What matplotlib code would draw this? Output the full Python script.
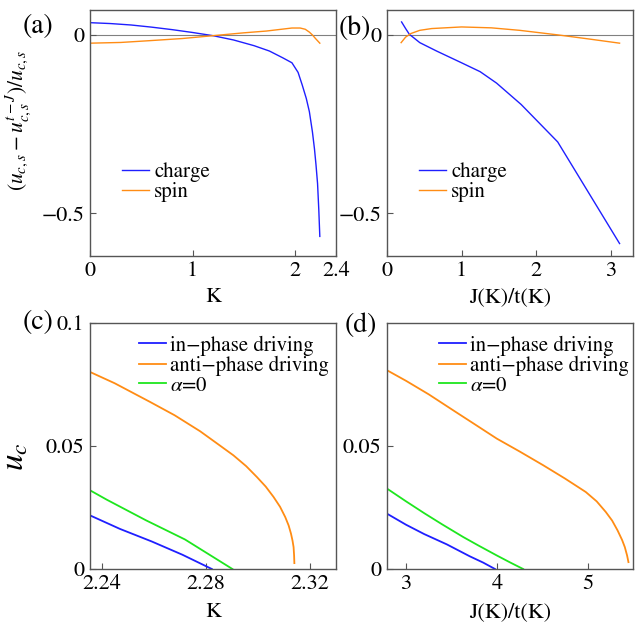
import matplotlib
matplotlib.use("Agg")
import matplotlib.pyplot as plt

plt.rcParams["font.family"] = "STIXGeneral"
plt.rcParams["mathtext.fontset"] = "stix"

BLUE = "#1f1fff"
ORANGE = "#ff8c14"
GREEN = "#1ee61e"
FRAME = "#555555"

# (a) relative deviation vs K
a_charge_k = [0, 0.2, 0.4, 0.6, 0.8, 1.0, 1.2, 1.4, 1.6, 1.75, 1.88, 1.97, 2.03, 2.07, 2.11, 2.14, 2.17, 2.19, 2.205, 2.22, 2.232, 2.242]
a_charge_v = [0.0345, 0.032, 0.028, 0.022, 0.015, 0.007, -0.002, -0.014, -0.030, -0.045, -0.064, -0.078, -0.105, -0.140, -0.178, -0.215, -0.272, -0.320, -0.365, -0.417, -0.49, -0.565]
a_spin_k = [0, 0.3, 0.58, 0.9, 1.2, 1.5, 1.72, 1.97, 2.05, 2.10, 2.14, 2.17, 2.20, 2.242]
a_spin_v = [-0.023, -0.021, -0.016, -0.010, -0.002, 0.006, 0.011, 0.0195, 0.0195, 0.016, 0.008, 0.0, -0.010, -0.023]

# (b) relative deviation vs J(K)/t(K)
b_charge_j = [0.196, 0.25, 0.30, 0.44, 0.665, 1.0, 1.25, 1.47, 1.80, 2.29, 3.12]
b_charge_v = [0.0365, 0.018, 0.002, -0.0215, -0.045, -0.078, -0.103, -0.135, -0.195, -0.30, -0.585]
b_spin_j = [0.19, 0.25, 0.32, 0.44, 0.6, 1.0, 1.4, 1.78, 2.3, 2.7, 3.12]
b_spin_v = [-0.0215, -0.006, 0.004, 0.013, 0.018, 0.0225, 0.020, 0.013, 0.0, -0.011, -0.023]

# (c) critical u vs K
c_in_k = [2.2355, 2.247, 2.2592, 2.271, 2.2823]
c_in_u = [0.0218, 0.0163, 0.0112, 0.0058, 0.0]
c_anti_k = [2.2355, 2.245, 2.2586, 2.268, 2.2778, 2.285, 2.2906, 2.2955, 2.2996, 2.303,
            2.3060, 2.3085, 2.3105, 2.3118, 2.3127, 2.3133, 2.3137, 2.3139, 2.314]
c_anti_u = [0.0801, 0.0755, 0.0679, 0.0625, 0.0560, 0.0505, 0.0462, 0.0418, 0.0374, 0.0335,
            0.0293, 0.0253, 0.0211, 0.0177, 0.0144, 0.0115, 0.0089, 0.0055, 0.0024]
c_zero_k = [2.2355, 2.2419, 2.257, 2.272, 2.2902]
c_zero_u = [0.032, 0.0282, 0.0198, 0.0120, 0.0]

# (d) critical u vs J(K)/t(K)
d_in_j = [2.79, 3.0, 3.2, 3.45, 3.7, 3.85, 3.98]
d_in_u = [0.0225, 0.0180, 0.0142, 0.0100, 0.0052, 0.0026, 0.0]
d_anti_j = [2.79, 3.0, 3.25, 3.52, 3.75, 4.0, 4.25, 4.51, 4.75, 4.98, 5.1, 5.20, 5.27, 5.33, 5.38, 5.41, 5.435, 5.45]
d_anti_u = [0.0808, 0.0765, 0.0710, 0.0645, 0.0590, 0.0530, 0.0478, 0.0422, 0.0368, 0.0313, 0.0275, 0.0232, 0.0197, 0.0157, 0.0118, 0.0089, 0.0055, 0.0028]
d_zero_j = [2.79, 3.0, 3.2, 3.4, 3.63, 3.8, 4.0, 4.15, 4.29]
d_zero_u = [0.0327, 0.0275, 0.0227, 0.0181, 0.0130, 0.0095, 0.0055, 0.0026, 0.0]


def style(ax):
    for s in ax.spines.values():
        s.set_color(FRAME)
        s.set_linewidth(1.0)
    ax.tick_params(direction="in", length=4, width=0.8, color=FRAME,
                   labelsize=16, top=False, right=False, pad=4)


fig = plt.figure(figsize=(6.41, 6.22), dpi=100)
W, H = 0.3838, 0.3955
ax_a = fig.add_axes([0.1404, 0.5884, W, H])
ax_b = fig.add_axes([0.6037, 0.5884, W, H])
ax_c = fig.add_axes([0.1404, 0.0852, W, H])
ax_d = fig.add_axes([0.6037, 0.0852, W, H])

# top row
for ax in (ax_a, ax_b):
    style(ax)
    ax.axhline(0, color="#808080", lw=0.8, zorder=1)
    ax.set_ylim(-0.62, 0.07)
    ax.set_yticks([0, -0.5])
    ax.set_yticklabels(["0", "\u22120.5"])

ax_a.plot(a_charge_k, a_charge_v, color=BLUE, lw=1.0, label="charge")
ax_a.plot(a_spin_k, a_spin_v, color=ORANGE, lw=1.0, label="spin")
ax_a.set_xlim(0, 2.4)
ax_a.set_xticks([0, 1, 2, 2.4])
ax_a.set_xticklabels(["0", "1", "2", "2.4"])
ax_a.set_xlabel("K", fontsize=16, labelpad=4)
ax_a.set_ylabel(r"$(u_{c,s}-u_{c,s}^{t-J})/u_{c,s}$", fontsize=15.5)
ax_a.yaxis.set_label_coords(-0.232, 0.553)

ax_b.plot(b_charge_j, b_charge_v, color=BLUE, lw=1.0, label="charge")
ax_b.plot(b_spin_j, b_spin_v, color=ORANGE, lw=1.0, label="spin")
ax_b.set_xlim(0, 3.3)
ax_b.set_xticks([0, 1, 2, 3])
ax_b.set_xlabel("J(K)/t(K)", fontsize=16, labelpad=4)

for ax, x0 in ((ax_a, 0.13), (ax_b, 0.13)):
    ax.legend(loc="center left", bbox_to_anchor=(x0, 0.30), frameon=False,
              fontsize=15, handlelength=1.3, handletextpad=0.25,
              labelspacing=0.0, borderpad=0, borderaxespad=0)

# bottom row
for ax in (ax_c, ax_d):
    style(ax)
    ax.set_ylim(0, 0.1)

ax_c.plot(c_in_k, c_in_u, color=BLUE, lw=1.3, label="in\u2212phase driving")
ax_c.plot(c_anti_k, c_anti_u, color=ORANGE, lw=1.3, label="anti\u2212phase driving")
ax_c.plot(c_zero_k, c_zero_u, color=GREEN, lw=1.3, label=r"$\alpha$=0")
ax_c.set_xlim(2.2355, 2.33)
ax_c.set_xticks([2.24, 2.28, 2.32])
ax_c.set_xticklabels(["2.24", "2.28", "2.32"])
ax_c.set_yticks([0, 0.05, 0.1])
ax_c.set_yticklabels(["0", "0.05", "0.1"])
ax_c.set_xlabel("K", fontsize=16, labelpad=6)
ax_c.set_ylabel(r"$u_c$", fontsize=24)
ax_c.yaxis.set_label_coords(-0.24, 0.455)

ax_d.plot(d_in_j, d_in_u, color=BLUE, lw=1.3, label="in\u2212phase driving")
ax_d.plot(d_anti_j, d_anti_u, color=ORANGE, lw=1.3, label="anti\u2212phase driving")
ax_d.plot(d_zero_j, d_zero_u, color=GREEN, lw=1.3, label=r"$\alpha$=0")
ax_d.set_xlim(2.79, 5.5)
ax_d.set_xticks([3, 4, 5])
ax_d.set_yticks([0, 0.05])
ax_d.set_yticklabels(["0", "0.05"])
ax_d.set_xlabel("J(K)/t(K)", fontsize=16, labelpad=6)

for ax, x0 in ((ax_c, 0.20), (ax_d, 0.21)):
    ax.legend(loc="upper left", bbox_to_anchor=(x0, 0.95), frameon=False,
              fontsize=15, handlelength=1.3, handletextpad=0.2,
              labelspacing=0.0, borderpad=0, borderaxespad=0)

# panel tags
fig.text(0.035, 0.957, "(a)", fontsize=20, va="center")
fig.text(0.529, 0.955, "(b)", fontsize=20, va="center")
fig.text(0.035, 0.481, "(c)", fontsize=20, va="center")
fig.text(0.538, 0.476, "(d)", fontsize=20, va="center")

fig.savefig("out.png", dpi=100)
